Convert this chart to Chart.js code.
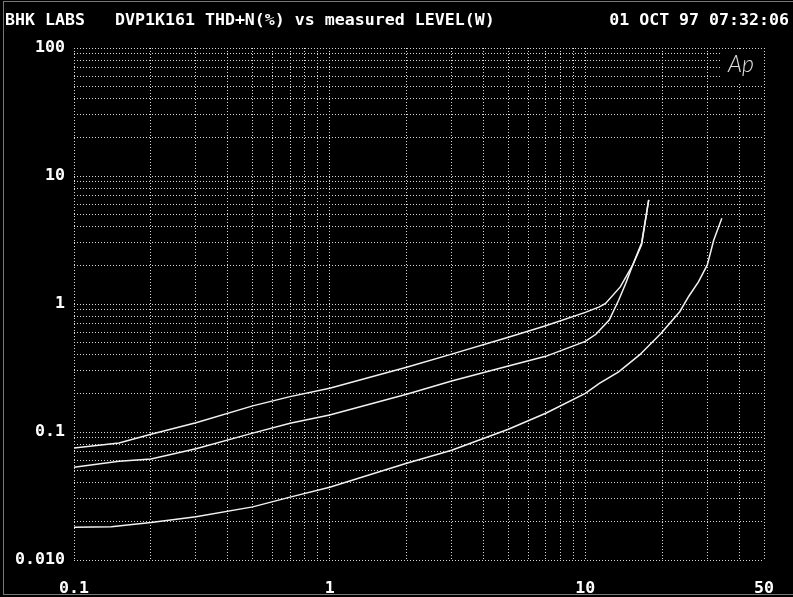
<!DOCTYPE html>
<html>
<head>
<meta charset="utf-8">
<script src="https://cdn.jsdelivr.net/npm/chart.js@4"></script>
<style>
  html, body { margin: 0; padding: 0; background: #000; }
  #wrap { position: relative; width: 793px; height: 597px; background: #000; }
  #frame { position: absolute; left: 3px; top: 1px; width: 790px; height: 594px;
           border-left: 1px solid #777; border-top: 1px solid #777; border-bottom: 1px solid #777; box-sizing: border-box; }
</style>
</head>
<body>
<div id="wrap">
  <canvas id="thd-chart" width="793" height="597"></canvas>
  <div id="frame"></div>
</div>
<script>
// measured level (W) and THD+N (%)
const levelA = [0.1, 0.15, 0.2, 0.3, 0.5, 0.7, 1, 2, 3, 5, 7, 10, 11.35, 12, 13.7, 15.3, 16.6, 17.7];
const thdA   = [0.075, 0.082, 0.096, 0.118, 0.16, 0.189, 0.22, 0.32, 0.406, 0.55, 0.676, 0.86, 0.95, 1.01, 1.36, 2.0, 2.9, 6.5];

const levelB = [0.1, 0.15, 0.2, 0.3, 0.5, 0.7, 1, 2, 3, 5, 7, 10, 11, 12.4, 13.5, 14.4, 15.3, 16.6, 17.7];
const thdB   = [0.053, 0.059, 0.0615, 0.074, 0.098, 0.117, 0.136, 0.197, 0.25, 0.328, 0.39, 0.51, 0.58, 0.75, 1.07, 1.45, 2.0, 3.0, 6.5];

const levelC = [0.1, 0.14, 0.2, 0.3, 0.5, 0.7, 1, 2, 3, 5, 7, 10, 11.35, 13.5, 16.3, 19.8, 23.4, 25.4, 27.7, 30, 31.8, 34.2];
const thdC   = [0.018, 0.0182, 0.0196, 0.0218, 0.026, 0.031, 0.037, 0.057, 0.072, 0.105, 0.14, 0.2, 0.24, 0.295, 0.4, 0.59, 0.87, 1.15, 1.49, 2.02, 3.16, 4.67];

// grid lines and labels
const xGrid = [0.1, 0.2, 0.3, 0.4, 0.5, 0.6, 0.7, 0.8, 0.9, 1, 2, 3, 4, 5, 6, 7, 8, 9, 10, 20, 30, 40, 50];
const xLabels = {0.1: "0.1", 1: "1", 10: "10", 50: "50"};
const yGrid = [0.01, 0.02, 0.03, 0.04, 0.05, 0.06, 0.07, 0.08, 0.09,
               0.1, 0.2, 0.3, 0.4, 0.5, 0.6, 0.7, 0.8, 0.9,
               1, 2, 3, 4, 5, 6, 7, 8, 9,
               10, 20, 30, 40, 50, 60, 70, 80, 90, 100];
const yLabels = {0.01: "0.010", 0.1: "0.1", 1: "1", 10: "10", 100: "100"};

const titleLeft = "BHK LABS";
const titleMain = "DVP1K161 THD+N(%) vs measured LEVEL(W)";
const titleDate = "01 OCT 97 07:32:06";

const monoFont = {family: "'DejaVu Sans Mono'", size: 16.6, weight: "bold"};

function toPoints(xs, ys){
    return xs.map((x, i) => ({x: x, y: ys[i]}));
}

function curve(xs, ys){
    return {
        data: toPoints(xs, ys),
        borderColor: "#f2f2f2",
        borderWidth: 1.5,
        pointRadius: 0,
        tension: 0,
        fill: false
    };
}

//header text and the Ap logo
const decorations = {
    id: "decorations",
    afterDraw(chart){
        const ctx = chart.ctx;
        ctx.save();
        ctx.fillStyle = "#fff";
        ctx.font = "bold 16.6px 'DejaVu Sans Mono'";
        ctx.textBaseline = "middle";
        ctx.textAlign = "left";
        ctx.fillText(titleLeft, 5, 21);
        ctx.fillText(titleMain, 115, 21);
        ctx.textAlign = "right";
        ctx.fillText(titleDate, 789, 21);

        ctx.fillStyle = "#000";
        ctx.fillRect(720, 51, 44, 31);
        ctx.fillStyle = "#e0e0e0";
        ctx.font = "italic 300 23px Lato";
        ctx.textAlign = "left";
        ctx.fillText("Ap", 728, 65);
        ctx.restore();
    }
};

new Chart(document.getElementById("thd-chart"), {
    type: "line",
    data: {
        datasets: [curve(levelA, thdA), curve(levelB, thdB), curve(levelC, thdC)]
    },
    options: {
        responsive: false,
        animation: false,
        layout: {padding: {left: 0, right: 28, top: 48, bottom: 0}},
        plugins: {legend: {display: false}, tooltip: {enabled: false}},
        scales: {
            x: {
                type: "logarithmic",
                min: 0.1,
                max: 50,
                afterBuildTicks: (s) => { s.ticks = xGrid.map(v => ({value: v})); },
                afterFit: (s) => { s.height = 37; },
                grid: {color: "#d8d8d8", lineWidth: 1, drawTicks: false},
                border: {display: false, dash: [1, 2]},
                ticks: {
                    autoSkip: false,
                    maxRotation: 0,
                    padding: 19,
                    color: "#fff",
                    font: monoFont,
                    callback: (v) => xLabels[v] || ""
                }
            },
            y: {
                type: "logarithmic",
                min: 0.01,
                max: 100,
                afterBuildTicks: (s) => { s.ticks = yGrid.map(v => ({value: v})); },
                afterFit: (s) => { s.width = 74; },
                grid: {color: "#d8d8d8", lineWidth: 1, drawTicks: false},
                border: {display: false, dash: [1, 2]},
                ticks: {
                    autoSkip: false,
                    padding: 9,
                    color: "#fff",
                    font: monoFont,
                    callback: (v) => yLabels[v] || ""
                }
            }
        }
    },
    plugins: [decorations]
});
</script>
</body>
</html>
